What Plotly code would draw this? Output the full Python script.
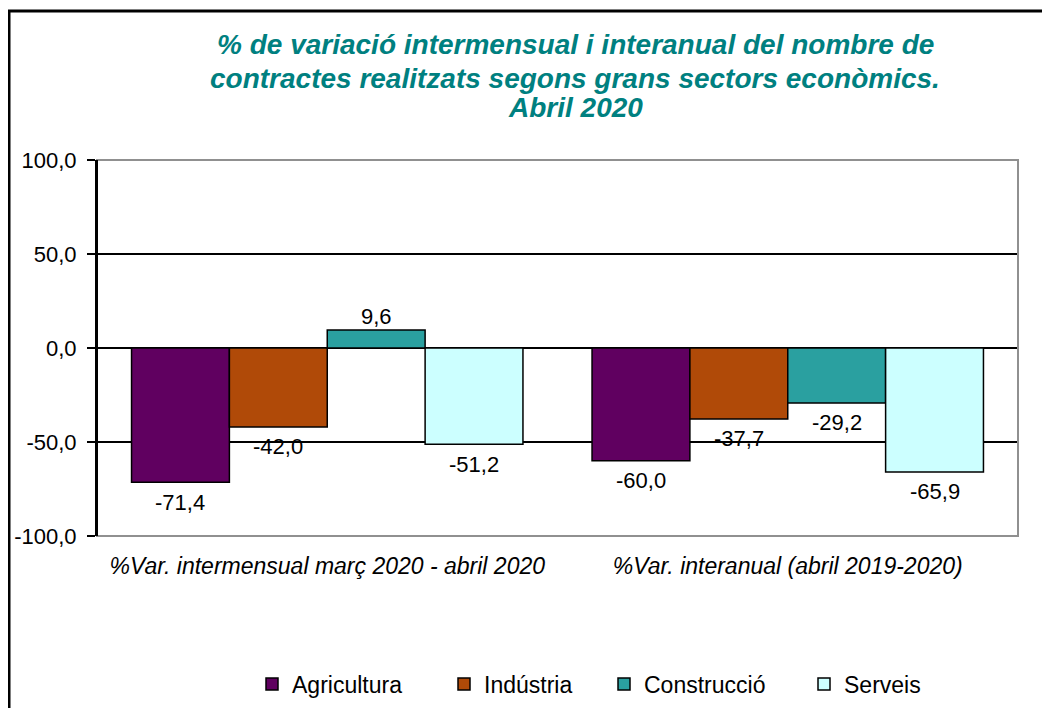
import plotly.graph_objects as go

categories = ["%Var. intermensual març 2020 - abril 2020", "%Var. interanual (abril 2019-2020)"]
series_names = ["Agricultura", "Indústria", "Construcció", "Serveis"]
agricultura = [-71.4, -60.0]
industria = [-42.0, -37.7]
construccio = [9.6, -29.2]
serveis = [-51.2, -65.9]
y_ticks = [-100, -50, 0, 50, 100]
title_lines = ["% de variació intermensual i interanual del nombre de",
               "contractes realitzats segons grans sectors econòmics.",
               "Abril 2020"]

values = [agricultura, industria, construccio, serveis]
colors = ["#600060", "#b04a08", "#2aa0a0", "#ccffff"]

FONT = "Liberation Sans, Arial, sans-serif"

def fmt(v):
    return f"{v:.1f}".replace(".", ",")

# page body has an 8px margin; figure coordinates below are offset accordingly
L, R, T, B = 89, 40, 152, 180
W, H = 1050, 708
PW, PH = W - L - R, H - T - B
BARGAP = 0.15
BAR_PX = PW / len(categories) * (1 - BARGAP) / len(series_names)

def px(x):
    return (x - L) / PW

def py(y):
    return (H - B - y) / PH

fig = go.Figure()
legend_x = [282, 474, 634, 834]
label_annotations = []
for i, (name, vals, col) in enumerate(zip(series_names, values, colors)):
    lg = "legend" if i == 0 else f"legend{i+1}"
    fig.add_trace(go.Bar(
        name=name, x=categories, y=vals,
        marker=dict(color=col, line=dict(color="black", width=1.5)),
        legend=lg,
    ))
    for c, v in zip(categories, vals):
        label_annotations.append(dict(
            x=c, y=v, xref="x", yref="y", text=fmt(v), showarrow=False,
            xshift=(i - 1.5) * BAR_PX, yshift=(13 if v >= 0 else -20),
            xanchor="center", yanchor="middle",
            font=dict(family=FONT, size=22, color="black"),
        ))

legend_common = dict(orientation="h", xanchor="left", yanchor="middle",
                     font=dict(family=FONT, size=23, color="black"),
                     itemwidth=30, bgcolor="rgba(0,0,0,0)")
legends = {}
for i, lx in enumerate(legend_x):
    key = "legend" if i == 0 else f"legend{i+1}"
    legends[key] = dict(legend_common, x=px(lx - 38), y=py(676))

title_annotations = [dict(
    text=f"<b><i>{line}</i></b>",
    xref="paper", yref="paper", x=px(567), y=py(yc), xanchor="center", yanchor="middle",
    showarrow=False, font=dict(family=FONT, size=28, color="#008080"),
) for line, yc in zip(title_lines, [37, 70, 100])]

fig.update_layout(
    width=W, height=H,
    margin=dict(l=L, r=R, t=T, b=B, autoexpand=False),
    paper_bgcolor="white", plot_bgcolor="white",
    barmode="group", bargap=BARGAP, bargroupgap=0,
    font=dict(family=FONT, size=22, color="black"),
    showlegend=True,
    xaxis=dict(showline=False, ticks="", showgrid=False,
               tickfont=dict(family=FONT, size=23, color="black", style="italic"),
               ticklabelstandoff=14),
    yaxis=dict(range=[-100, 100], tickvals=y_ticks, ticktext=[fmt(v) for v in y_ticks],
               showgrid=True, gridcolor="black", gridwidth=1.5,
               zeroline=True, zerolinecolor="black", zerolinewidth=1.5,
               showline=True, linecolor="black", linewidth=2,
               ticks="outside", ticklen=8, tickcolor="black", tickwidth=1.5,
               ticklabelstandoff=6,
               tickfont=dict(family=FONT, size=22, color="black")),
    annotations=title_annotations + label_annotations,
    shapes=[
        dict(type="rect", xref="paper", yref="paper", x0=0, x1=1, y0=0, y1=1,
             line=dict(color="#909090", width=2), fillcolor="rgba(0,0,0,0)", layer="above"),
        dict(type="line", xref="paper", yref="paper", x0=0, x1=0, y0=0, y1=1,
             line=dict(color="black", width=2), layer="above"),
        dict(type="rect", xref="paper", yref="paper", x0=px(1), x1=px(1060), y0=py(3), y1=py(720),
             line=dict(color="black", width=3), fillcolor="rgba(0,0,0,0)", layer="below"),
    ],
    **legends,
)

fig.write_html("out.html")
